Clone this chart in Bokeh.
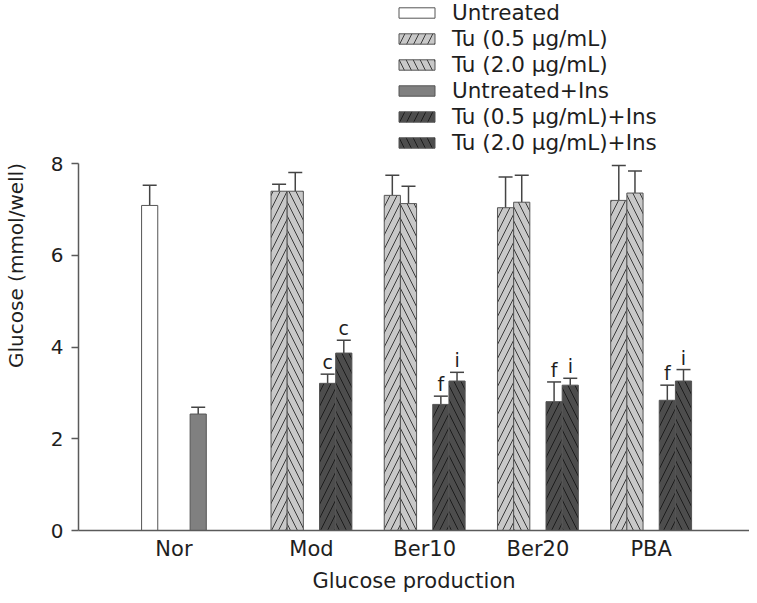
import math
from bokeh.plotting import figure
from bokeh.models import (ColumnDataSource, Range1d, FixedTicker, Whisker, TeeHead,
                          Legend, LegendItem)
from bokeh.core.properties import value
from bokeh.embed import file_html
from bokeh.resources import INLINE

nan = float("nan")

# ---- data ----
groups = ["Nor", "Mod", "Ber10", "Ber20", "PBA"]
series = ["Untreated", "Tu (0.5 μg/mL)", "Tu (2.0 μg/mL)",
          "Untreated+Ins", "Tu (0.5 μg/mL)+Ins", "Tu (2.0 μg/mL)+Ins"]

untreated          = [7.09, nan, nan, nan, nan]
untreated_err      = [0.44, nan, nan, nan, nan]
tu05               = [nan, 7.40, 7.31, 7.04, 7.20]
tu05_err           = [nan, 0.15, 0.44, 0.67, 0.76]
tu20               = [nan, 7.40, 7.13, 7.16, 7.36]
tu20_err           = [nan, 0.41, 0.38, 0.59, 0.48]
untreated_ins      = [2.54, nan, nan, nan, nan]
untreated_ins_err  = [0.15, nan, nan, nan, nan]
tu05_ins           = [nan, 3.21, 2.75, 2.81, 2.84]
tu05_ins_err       = [nan, 0.20, 0.18, 0.43, 0.33]
tu20_ins           = [nan, 3.87, 3.26, 3.17, 3.26]
tu20_ins_err       = [nan, 0.28, 0.19, 0.15, 0.25]

tu05_ins_sig = ["", "c", "f", "f", "f"]
tu20_ins_sig = ["", "c", "i", "i", "i"]

values = [untreated, tu05, tu20, untreated_ins, tu05_ins, tu20_ins]
errors = [untreated_err, tu05_err, tu20_err, untreated_ins_err, tu05_ins_err, tu20_ins_err]
sigs = [None, None, None, None, tu05_ins_sig, tu20_ins_sig]

# ---- styles ----
fills = ["#ffffff", "#c8c8c8", "#c8c8c8", "#808080", "#4d4d4d", "#4d4d4d"]
hatches = [" ", "/", "\\", " ", "/", "\\"]
hatch_colors = ["#333333", "#3a3a3a", "#3a3a3a", "#333333", "#1c1c1c", "#1c1c1c"]
FONT = "DejaVu Sans"
TXT = "#1e1e1e"
AX = "#5a5a5a"

STRIDE = 7  # slots per group (6 bars + 1 gap)

p = figure(width=749, height=595, output_backend="svg", toolbar_location=None,
           x_range=Range1d(-3.9, 37.58), y_range=Range1d(0, 11.56),
           min_border_left=72, min_border_right=0, min_border_top=0,
           min_border_bottom=64)
p.outline_line_color = None
p.xgrid.visible = False
p.ygrid.visible = False
p.background_fill_color = "white"
p.border_fill_color = "white"

legend_items = []
for s, (vals, errs) in enumerate(zip(values, errors)):
    xs, tops, ups, txt = [], [], [], []
    for g in range(len(groups)):
        v = vals[g]
        if math.isnan(v):
            continue
        xs.append(g * STRIDE + s + 0.5)
        tops.append(v)
        ups.append(v + errs[g])
        txt.append(sigs[s][g] if sigs[s] else "")
    src = ColumnDataSource(dict(x=xs, top=tops, upper=ups, sig=txt))
    r = p.vbar(x="x", top="top", bottom=0, width=1.0, source=src,
               fill_color=fills[s], line_color="#555555", line_width=1,
               hatch_pattern=hatches[s], hatch_color=hatch_colors[s],
               hatch_weight=1, hatch_scale=14)
    legend_items.append(LegendItem(label=series[s], renderers=[r]))
    w = Whisker(source=src, base="x", lower="top", upper="upper",
                dimension="height", line_color="#444444", line_width=1.5,
                upper_head=TeeHead(size=14, line_color="#444444", line_width=1.5),
                lower_head=None)
    p.add_layout(w)
    if sigs[s]:
        p.text(x="x", y="upper", text="sig", source=src, text_align="center",
               text_baseline="alphabetic", y_offset=-12,
               text_font=value(FONT), text_font_size="19px", text_color=TXT)

# group tick positions: centre of the bars present in each group
tick_pos = []
for g in range(len(groups)):
    present = [s for s in range(len(series)) if not math.isnan(values[s][g])]
    tick_pos.append(g * STRIDE + (min(present) + max(present) + 1) / 2)

p.xaxis.ticker = FixedTicker(ticks=tick_pos)
p.xaxis.major_label_overrides = {t: n for t, n in zip(tick_pos, groups)}
p.xaxis.major_tick_line_color = None
p.xaxis.minor_tick_line_color = None
p.xaxis.axis_line_color = AX
p.xaxis.axis_line_width = 1.5
p.xaxis.major_label_standoff = 0
p.xaxis.major_label_text_font = FONT
p.xaxis.major_label_text_font_size = "21px"
p.xaxis.major_label_text_color = TXT
p.xaxis.axis_label = "Glucose production"
p.xaxis.axis_label_text_font = FONT
p.xaxis.axis_label_text_font_size = "21px"
p.xaxis.axis_label_text_font_style = "normal"
p.xaxis.axis_label_text_color = TXT
p.xaxis.axis_label_standoff = 5

p.yaxis.ticker = FixedTicker(ticks=[0, 2, 4, 6, 8])
p.yaxis.bounds = (0, 8)
p.yaxis.axis_line_color = AX
p.yaxis.axis_line_width = 1.5
p.yaxis.major_tick_line_color = AX
p.yaxis.major_tick_line_width = 1.5
p.yaxis.major_tick_out = 7
p.yaxis.major_tick_in = 0
p.yaxis.minor_tick_line_color = None
p.yaxis.major_label_standoff = 8
p.yaxis.major_label_text_font = FONT
p.yaxis.major_label_text_font_size = "20px"
p.yaxis.major_label_text_color = TXT
p.yaxis.axis_label = "Glucose (mmol/well)"
p.yaxis.axis_label_text_font = FONT
p.yaxis.axis_label_text_font_size = "20px"
p.yaxis.axis_label_text_font_style = "normal"
p.yaxis.axis_label_text_color = TXT
p.yaxis.axis_label_standoff = 20

legend = Legend(items=legend_items, location=(316, 375),
                glyph_width=45, glyph_height=13, label_standoff=13,
                label_height=21, spacing=1, padding=0, margin=0,
                border_line_color=None, background_fill_alpha=0,
                label_text_font=FONT, label_text_font_size="21.5px",
                label_text_color=TXT)
p.add_layout(legend)

open("out.html", "w").write(file_html(p, INLINE))
